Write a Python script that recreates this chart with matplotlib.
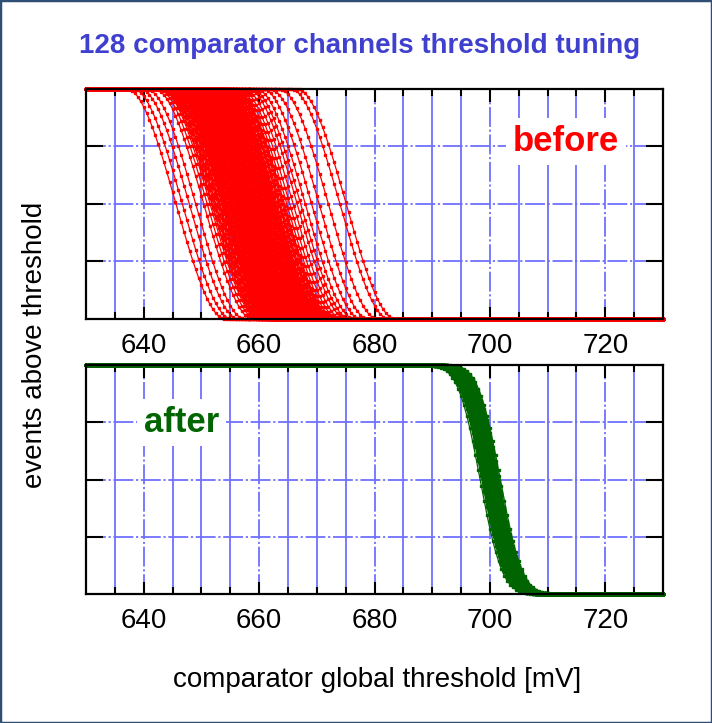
import math

import numpy as np
import matplotlib
matplotlib.use("Agg")
import matplotlib.pyplot as plt
from matplotlib.patches import Rectangle

plt.rcParams['font.family'] = ['Liberation Sans', 'DejaVu Sans']

# scan of the comparator global threshold [mV]
scan_mv = np.arange(630.0, 730.01, 0.5)

# per-channel 50% threshold points [mV], before tuning (128 channels)
thr_before = [
    645.6, 646.7, 647.9, 649.0, 650.4, 651.0, 651.5, 651.9, 652.2, 652.5, 652.8, 653.0, 653.2, 653.5, 653.7, 653.9,
    654.1, 654.2, 654.4, 654.6, 654.8, 655.0, 655.1, 655.3, 655.5, 655.6, 655.8, 656.0, 656.1, 656.2, 656.4, 656.5,
    656.7, 656.8, 657.0, 657.1, 657.2, 657.4, 657.5, 657.6, 657.8, 657.9, 658.0, 658.2, 658.3, 658.4, 658.6, 658.7,
    658.8, 659.0, 659.1, 659.2, 659.4, 659.5, 659.7, 659.8, 659.9, 660.1, 660.2, 660.4, 660.5, 660.7, 660.8, 661.0,
    661.1, 661.3, 661.5, 661.6, 661.8, 662.0, 662.2, 662.4, 662.6, 662.8, 663.1, 663.4, 663.7, 664.0, 664.4, 664.8,
    665.3, 665.9, 666.6, 667.2, 668.0, 669.1, 670.4, 672.0, 674.0, 675.1, 654.0, 655.2, 656.3, 657.3, 658.5, 659.7,
    653.2, 654.4, 655.6, 656.8, 657.9, 659.1, 660.3, 661.4, 662.5, 652.4, 653.8, 655.9, 657.7, 658.9, 660.6, 661.9,
    651.8, 653.6, 654.9, 656.2, 657.4, 658.6, 659.6, 661.0, 662.3, 663.5, 655.0, 656.9, 658.1, 659.3, 662.9, 664.2,
]

# per-channel 50% threshold points [mV], after tuning (128 channels)
thr_after = [
    698.3, 698.6, 698.8, 699.0, 699.1, 699.2, 699.3, 699.4, 699.5, 699.5, 699.6, 699.6, 699.7, 699.7, 699.8, 699.8,
    699.8, 699.9, 699.9, 699.9, 700.0, 700.0, 700.0, 700.0, 700.1, 700.1, 700.1, 700.1, 700.2, 700.2, 700.2, 700.3,
    700.3, 700.3, 700.4, 700.4, 700.5, 700.5, 700.6, 700.6, 700.7, 700.8, 700.9, 701.0, 701.1, 701.3, 701.5, 701.8,
    698.9, 699.2, 699.4, 699.6, 699.7, 699.8, 699.9, 700.0, 700.1, 700.2, 700.3, 700.4, 700.5, 700.7, 700.9, 701.2,
    699.0, 699.3, 699.5, 699.7, 699.9, 700.0, 700.2, 700.3, 700.5, 700.6, 700.8, 701.0, 701.4, 699.6, 700.1, 700.4,
    698.7, 699.1, 699.4, 699.6, 699.8, 700.0, 700.1, 700.3, 700.4, 700.6, 700.9, 701.2, 701.6, 699.9, 700.2, 700.0,
    699.3, 699.5, 699.7, 699.9, 700.0, 700.2, 700.4, 700.5, 700.7, 701.0, 699.8, 700.1, 700.3, 699.6, 700.6, 700.8,
    699.2, 699.7, 699.9, 700.1, 700.3, 700.5, 700.8, 701.1, 699.5, 699.8, 700.0, 700.2, 700.4, 700.7, 699.9, 700.2,
]

# s-curve widths [mV]: full 100%->0% ramp before tuning, noise sigma after
width_before = 17.0
sigma_after = 3.0

erfc = np.vectorize(math.erfc)

GRID_BLUE = '#7070ff'


def ramp_curve(thr, width):
    # smooth ramp from 1 to 0 centred on thr
    t = np.clip((scan_mv - thr) / width + 0.5, 0, 1)
    return 1 - (3 * t**2 - 2 * t**3)


def s_curve(thr, sigma):
    # fraction of events above threshold for one channel
    return 0.5 * erfc((scan_mv - thr) / (sigma * math.sqrt(2)))


def style_axes(ax):
    ax.set_xlim(630, 730)
    ax.set_ylim(0, 1)
    ax.set_xticks(np.arange(640, 721, 20))
    ax.set_xticks(np.arange(635, 730, 5), minor=True)
    ax.set_yticks([0.25, 0.5, 0.75])
    ax.set_yticklabels([])
    ax.tick_params(axis='x', which='major', direction='in', length=9, width=1.5,
                   top=True, bottom=True, labelsize=20, pad=10)
    ax.tick_params(axis='x', which='minor', direction='in', length=5, width=1.5,
                   top=True, bottom=True)
    ax.tick_params(axis='y', which='major', direction='in', length=12, width=1.5,
                   left=True, right=True)
    for s in ax.spines.values():
        s.set_linewidth(1.6)
    # gnuplot-like grid: dash-dot on major, solid on minor
    for x in np.arange(635, 730, 5):
        if x % 20 == 0:
            ax.axvline(x, color=GRID_BLUE, lw=1.3, dashes=(11, 1.5, 1.2, 1.5), zorder=0)
        else:
            ax.axvline(x, color=GRID_BLUE, lw=1.3, zorder=0)
    for y in [0.25, 0.5, 0.75]:
        ax.axhline(y, color=GRID_BLUE, lw=1.3, dashes=(11, 1.5, 1.2, 1.5), zorder=0)


fig = plt.figure(figsize=(7.12, 7.23), dpi=100)
ax1 = fig.add_axes([0.1208, 0.5588, 0.8104, 0.3181])
ax2 = fig.add_axes([0.1208, 0.1784, 0.8104, 0.3167])

for t in thr_before:
    ax1.plot(scan_mv, ramp_curve(t, width_before), color='#ff0000', lw=0.9,
             marker='s', markersize=1.5, clip_on=False, zorder=2)
for t in thr_after:
    ax2.plot(scan_mv, s_curve(t, sigma_after), color='#006400', lw=0.9,
             marker='s', markersize=1.6, clip_on=False, zorder=2)

style_axes(ax1)
style_axes(ax2)

ax1.text(713.2, 0.77, 'before', color='#ff0000', fontsize=25, fontweight='bold',
         ha='center', va='center',
         bbox=dict(facecolor='white', edgecolor='none', pad=5), zorder=3)
ax2.text(646.6, 0.75, 'after', color='#006400', fontsize=25, fontweight='bold',
         ha='center', va='center',
         bbox=dict(facecolor='white', edgecolor='none', pad=5), zorder=3)

fig.text(0.505, 0.936, '128 comparator channels threshold tuning', color='#4040d0',
         fontsize=20, fontweight='bold', ha='center', va='center')
fig.text(0.049, 0.523, 'events above threshold', rotation=90, fontsize=20,
         ha='center', va='center')
fig.text(0.529, 0.0595, 'comparator global threshold [mV]', fontsize=20,
         ha='center', va='center')

fig.patches.append(Rectangle((0, 0), 1, 1, transform=fig.transFigure, fill=False,
                             edgecolor='#2f4f75', lw=2.5))

fig.savefig('out.png', dpi=100)
